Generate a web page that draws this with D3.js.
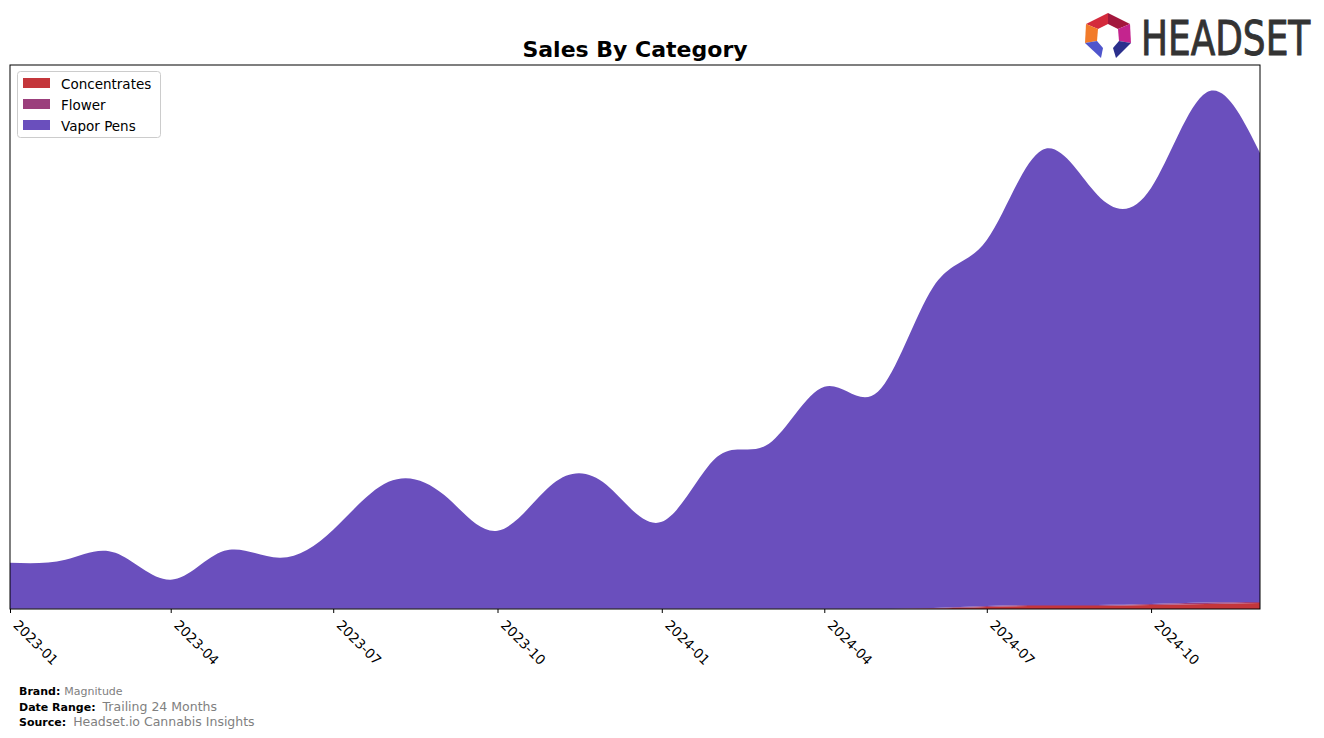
<!DOCTYPE html>
<html>
<head>
<meta charset="utf-8">
<script src="https://cdn.jsdelivr.net/npm/d3@7"></script>
<style>
  html, body { margin: 0; padding: 0; background: #ffffff; }
  svg { display: block; }
</style>
</head>
<body>
<svg id="chart" width="1324" height="738"></svg>
<script>
// ---- Data (monthly sales, USD) ----
const months = ["2023-01","2023-02","2023-03","2023-04","2023-05","2023-06","2023-07","2023-08","2023-09","2023-10","2023-11","2023-12",
                "2024-01","2024-02","2024-03","2024-04","2024-05","2024-06","2024-07","2024-08","2024-09","2024-10","2024-11","2024-12"];
const concentrates = [0,0,0,0,0,0,0,0,0,0,0,0,0,0,0,0,0,500,2000,3000,3000,4000,5000,6000];
const flower       = [200,200,200,200,200,200,200,200,200,200,200,200,200,200,200,200,200,500,1000,1000,1000,1000,1500,1000];
const vaporPens    = [46000,49000,56000,29000,58000,51000,79000,127000,114000,78000,125000,124000,
                      87000,152000,165000,222000,217000,321000,366000,455000,410000,416000,510000,449000];
const categories = ["Concentrates","Flower","Vapor Pens"];
const colors = ["#c4363b","#9b3f7c","#6a4fbd"];
const tickLabels = ["2023-01","2023-04","2023-07","2023-10","2024-01","2024-04","2024-07","2024-10"];

const svg = d3.select("#chart");
const plot = {left: 10, right: 1260, top: 65, bottom: 609};
const parse = d3.timeParse("%Y-%m");

const rows = months.map((m, i) => ({
  date: parse(m),
  "Concentrates": concentrates[i],
  "Flower": flower[i],
  "Vapor Pens": vaporPens[i]
}));

const x = d3.scaleTime()
  .domain([parse(months[0]), parse(months[months.length - 1])])
  .range([plot.left, plot.right]);
const y = d3.scaleLinear()
  .domain([0, 544000])
  .range([plot.bottom, plot.top]);

const stacked = d3.stack().keys(categories)(rows);

svg.append("defs").append("clipPath").attr("id", "clip")
  .append("rect").attr("x", plot.left).attr("y", plot.top)
  .attr("width", plot.right - plot.left).attr("height", plot.bottom - plot.top);

const area = d3.area()
  .x(d => x(d.data.date))
  .y0(d => y(d[0]))
  .y1(d => y(d[1]))
  .curve(d3.curveNatural);

svg.append("g").attr("clip-path", "url(#clip)")
  .selectAll("path").data(stacked).join("path")
  .attr("d", area)
  .attr("fill", (d, i) => colors[i]);

// axes frame
svg.append("rect")
  .attr("x", plot.left).attr("y", plot.top)
  .attr("width", plot.right - plot.left).attr("height", plot.bottom - plot.top)
  .attr("fill", "none").attr("stroke", "#000").attr("stroke-width", 1);

// x axis
const xAxis = d3.axisBottom(x)
  .tickValues(tickLabels.map(parse))
  .tickSize(4)
  .tickFormat(d3.timeFormat("%Y-%m"));
const gx = svg.append("g").attr("transform", `translate(0,${plot.bottom})`).call(xAxis);
gx.select(".domain").remove();
gx.selectAll(".tick line").attr("stroke", "#000");
gx.selectAll(".tick text")
  .attr("font-family", "DejaVu Sans")
  .attr("font-size", "13.5px")
  .attr("fill", "#000")
  .attr("text-anchor", "start")
  .attr("y", 0).attr("dy", 0)
  .attr("transform", "translate(2,17) rotate(45)");

// title
svg.append("text")
  .attr("x", 635).attr("y", 57)
  .attr("text-anchor", "middle")
  .attr("font-family", "DejaVu Sans")
  .attr("font-weight", "bold")
  .attr("font-size", "22px")
  .attr("fill", "#000")
  .text("Sales By Category");

// legend
const lg = svg.append("g");
lg.append("rect")
  .attr("x", 17.5).attr("y", 71.5).attr("width", 143).attr("height", 66)
  .attr("rx", 3).attr("fill", "#fff").attr("fill-opacity", 0.8)
  .attr("stroke", "#cccccc");
categories.forEach((c, i) => {
  const yy = 78 + i * 21;
  lg.append("rect").attr("x", 23).attr("y", yy).attr("width", 27).attr("height", 10).attr("fill", colors[i]);
  lg.append("text").attr("x", 61).attr("y", yy + 11)
    .attr("font-family", "DejaVu Sans").attr("font-size", "13.5px").attr("fill", "#000")
    .text(c);
});

// footer
const foot = [
  ["Brand:", "Magnitude", 695, 11, 4],
  ["Date Range:", "Trailing 24 Months", 711, 12.5, 7],
  ["Source:", "Headset.io Cannabis Insights", 726, 12.5, 7]
];
foot.forEach(([k, v, yy, fs, gap]) => {
  const t = svg.append("text").attr("x", 19).attr("y", yy)
    .attr("font-family", "DejaVu Sans");
  t.append("tspan").attr("font-weight", "bold").attr("font-size", "11px").attr("fill", "#000").text(k);
  t.append("tspan").attr("dx", gap).attr("font-size", fs + "px").attr("fill", "#808080").text(v);
});

// logo
const logo = svg.append("g");
const segs = [
  {pts: [[1086,24],[1108,13],[1108,24],[1098,29]], c: "#d42a3c"},
  {pts: [[1108,13],[1130,24],[1118,29],[1108,24]], c: "#a3173d"},
  {pts: [[1130,24],[1131,43],[1119,41],[1118,29]], c: "#c4248e"},
  {pts: [[1086,24],[1098,29],[1097,41],[1085,43]], c: "#f27b2a"},
  {pts: [[1085,43],[1097,41],[1103,48],[1101,58]], c: "#4f55cc"},
  {pts: [[1131,43],[1119,41],[1113,48],[1116,58]], c: "#2b2f8c"}
];
segs.forEach(s => {
  logo.append("polygon").attr("points", s.pts.map(p => p.join(",")).join(" ")).attr("fill", s.c);
});
logo.append("text")
  .attr("transform", "translate(1141,55) scale(0.928,1.12)")
  .attr("font-family", "'Liberation Sans Narrow', 'DejaVu Sans Condensed', 'Liberation Sans', sans-serif")
  .attr("font-size", "43px")
  .attr("fill", "#333333")
  .attr("stroke", "#333333")
  .attr("stroke-width", 0.8)
  .text("HEADSET");
</script>
</body>
</html>
